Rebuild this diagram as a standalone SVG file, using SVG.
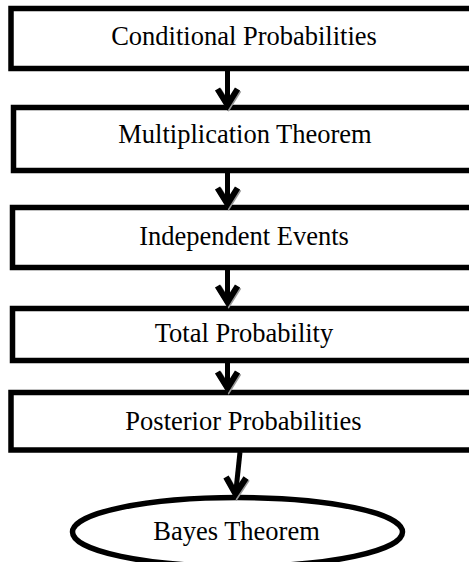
<svg xmlns="http://www.w3.org/2000/svg" width="469" height="562" viewBox="0 0 469 562">
<defs>
<style>
.box{fill:#fff;stroke:#000;stroke-width:5.5}
.lbl{font-family:"Liberation Serif","Times New Roman",serif;font-size:26.5px;fill:#000;text-anchor:middle}
.shaft{fill:none;stroke:#000;stroke-width:5}
.head{fill:none;stroke:#000;stroke-width:6;stroke-linejoin:miter;stroke-linecap:butt}
.shadow{fill:none;stroke:#999;stroke-width:6;stroke-linejoin:miter}
</style>
</defs>
<rect width="469" height="562" fill="#fff"/>
<g id="node-conditional">
<rect class="box" x="11" y="8.5" width="470" height="60"/>
<text class="lbl" x="244" y="45">Conditional Probabilities</text>
</g>
<g id="node-multiplication">
<rect class="box" x="13.5" y="107.5" width="470" height="63"/>
<text class="lbl" x="245" y="143">Multiplication Theorem</text>
</g>
<g id="node-independent">
<rect class="box" x="12.5" y="207.5" width="470" height="60"/>
<text class="lbl" x="244" y="245">Independent Events</text>
</g>
<g id="node-total">
<rect class="box" x="12.5" y="308.5" width="470" height="52"/>
<text class="lbl" x="244" y="342">Total Probability</text>
</g>
<g id="node-posterior">
<rect class="box" x="11" y="392.5" width="470" height="57.5"/>
<text class="lbl" x="243.5" y="430">Posterior Probabilities</text>
</g>
<g id="node-bayes">
<ellipse class="box" cx="237.5" cy="532" rx="165" ry="34.5"/>
<text class="lbl" x="236.5" y="540">Bayes Theorem</text>
</g>
<g id="connectors">
<g transform="translate(1.2,1.2)">
<path class="shadow" d="M217.5,89 L227.5,105 L237.5,89"/>
<path class="shadow" d="M217.5,188 L227.5,204 L237.5,188"/>
<path class="shadow" d="M217.5,286 L227.5,302 L237.5,286"/>
<path class="shadow" d="M217.5,372 L227.5,388 L237.5,372"/>
<path class="shadow" d="M226,477 L235.5,494 L246,478"/>
</g>
<line class="shaft" x1="227.5" y1="71" x2="227.5" y2="104"/>
<path class="head" d="M217.5,89 L227.5,105 L237.5,89"/>
<line class="shaft" x1="227.5" y1="173" x2="227.5" y2="203"/>
<path class="head" d="M217.5,188 L227.5,204 L237.5,188"/>
<line class="shaft" x1="227.5" y1="270" x2="227.5" y2="301"/>
<path class="head" d="M217.5,286 L227.5,302 L237.5,286"/>
<line class="shaft" x1="227.5" y1="363" x2="227.5" y2="387"/>
<path class="head" d="M217.5,372 L227.5,388 L237.5,372"/>
<line class="shaft" x1="240" y1="452" x2="235.8" y2="492"/>
<path class="head" d="M226,477 L235.5,494 L246,478"/>
</g>
</svg>
